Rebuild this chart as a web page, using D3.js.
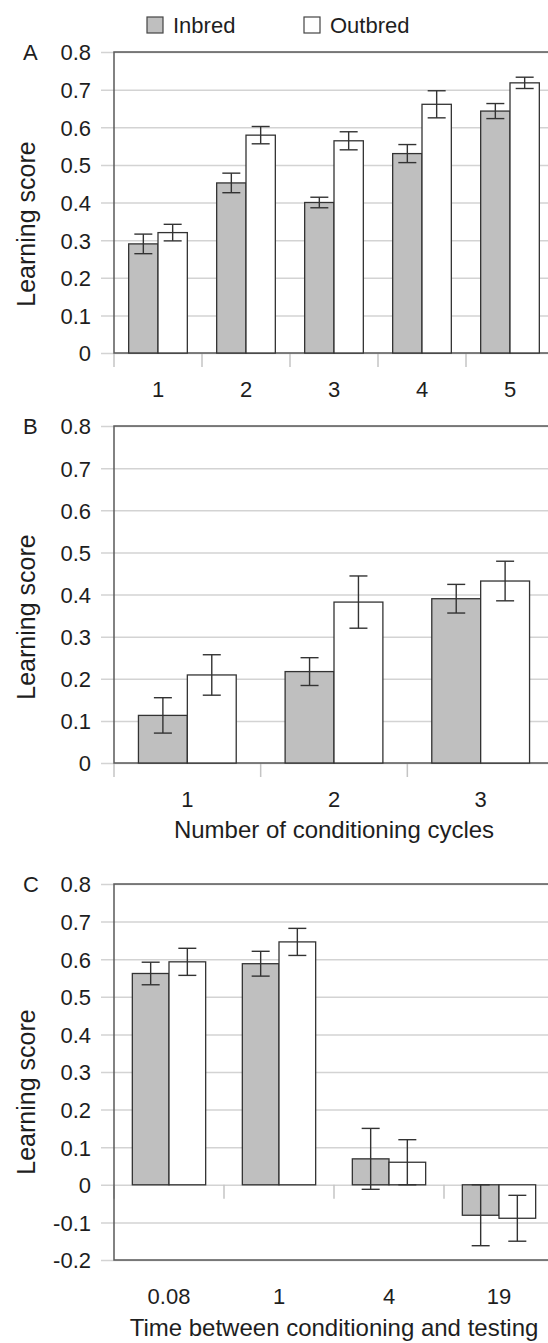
<!DOCTYPE html>
<html>
<head>
<meta charset="utf-8">
<script src="https://cdn.jsdelivr.net/npm/d3@7/dist/d3.min.js"></script>
<style>
body { margin: 0; background: #fff; }
text { font-family: "Liberation Sans", Arial, sans-serif; fill: #1e1e1e; }
</style>
</head>
<body>
<div id="chart"></div>
<script>
// series names
var series = ["Inbred", "Outbred"];

// panel A - number of conditioning cycles 1..5
var catsA = ["1", "2", "3", "4", "5"];
var inbredA = [0.29, 0.452, 0.40, 0.53, 0.643];
var inbredErrA = [0.026, 0.026, 0.014, 0.024, 0.02];
var outbredA = [0.32, 0.579, 0.564, 0.661, 0.718];
var outbredErrA = [0.022, 0.023, 0.024, 0.036, 0.015];

// panel B - number of conditioning cycles 1..3
var catsB = ["1", "2", "3"];
var inbredB = [0.113, 0.217, 0.39];
var inbredErrB = [0.042, 0.033, 0.034];
var outbredB = [0.209, 0.382, 0.432];
var outbredErrB = [0.048, 0.062, 0.047];

// panel C - time between conditioning and testing
var catsC = ["0.08", "1", "4", "19"];
var inbredC = [0.562, 0.588, 0.069, -0.081];
var inbredErrC = [0.03, 0.033, 0.081, 0.081];
var outbredC = [0.593, 0.646, 0.06, -0.089];
var outbredErrC = [0.036, 0.036, 0.06, 0.061];

// y tick labels
var ticksAB = [0, 0.1, 0.2, 0.3, 0.4, 0.5, 0.6, 0.7, 0.8];
var ticksC = [-0.2, -0.1, 0, 0.1, 0.2, 0.3, 0.4, 0.5, 0.6, 0.7, 0.8];

var W = 548, H = 1343;
var left = 114, right = 554; // plot runs past the right edge, like the original

var svg = d3.select("#chart").append("svg")
    .attr("width", W)
    .attr("height", H);

var fills = {"Inbred": "#bfbfbf", "Outbred": "#ffffff"};

// legend
series.forEach(function(s, i){
    var lx = [147, 304][i];
    svg.append("rect")
        .attr("x", lx).attr("y", 17)
        .attr("width", 16).attr("height", 16)
        .attr("fill", fills[s])
        .attr("stroke", "#444").attr("stroke-width", 1.2);
    svg.append("text")
        .attr("x", lx + 26).attr("y", 33)
        .attr("font-size", 22)
        .text(s);
});

function drawPanel(p){
    var g = svg.append("g");

    var x = d3.scaleBand().domain(p.cats).range([left, right]);
    var bw = x.bandwidth();
    var xs = d3.scaleBand().domain(series).range([bw / 6, bw * 5 / 6]); // bars take middle 2/3
    var y = d3.scaleLinear().domain(p.domain).range([p.bottom, p.top]);

    // gridlines, sticking out a bit on the left like tick marks
    g.append("g")
        .attr("transform", "translate(" + (left - 13) + ",0)")
        .call(d3.axisRight(y).tickValues(p.ticks).tickSize(right - left + 13).tickFormat(""))
        .call(function(s){ s.select(".domain").remove(); })
        .selectAll("line")
        .attr("stroke", "#d3d3d3")
        .attr("stroke-width", 1.5);

    // y tick labels
    g.append("g")
        .attr("transform", "translate(" + left + ",0)")
        .call(d3.axisLeft(y).tickValues(p.ticks).tickSize(0).tickPadding(23)
            .tickFormat(function(d){ return String(d); }))
        .attr("font-size", 22)
        .call(function(s){ s.select(".domain").remove(); })
        .selectAll("text").attr("dy", "0.36em");

    // x tick marks at band edges
    g.selectAll(".xtick")
        .data(p.cats)
        .enter().append("line")
        .attr("x1", function(d){ return x(d); })
        .attr("x2", function(d){ return x(d); })
        .attr("y1", y(0))
        .attr("y2", y(0) + 14)
        .attr("stroke", "#c4c4c4")
        .attr("stroke-width", 1.5);

    // frame: left, top, bottom
    g.append("path")
        .attr("d", "M" + right + "," + p.top + "H" + left + "V" + p.bottom + "H" + right)
        .attr("fill", "none")
        .attr("stroke", "#5a5a5a")
        .attr("stroke-width", 1.5);

    var rows = [];
    p.cats.forEach(function(c, i){
        rows.push({cat: c, key: "Inbred", v: p.inbred[i], e: p.inbredErr[i]});
        rows.push({cat: c, key: "Outbred", v: p.outbred[i], e: p.outbredErr[i]});
    });

    g.selectAll(".bar")
        .data(rows)
        .enter().append("rect")
        .attr("x", function(d){ return x(d.cat) + xs(d.key); })
        .attr("y", function(d){ return y(Math.max(0, d.v)); })
        .attr("width", xs.bandwidth())
        .attr("height", function(d){ return Math.abs(y(d.v) - y(0)); })
        .attr("fill", function(d){ return fills[d.key]; })
        .attr("stroke", "#333")
        .attr("stroke-width", 1.3);

    // error bars
    var eb = g.selectAll(".err")
        .data(rows)
        .enter().append("g")
        .attr("stroke", "#333")
        .attr("stroke-width", 1.4);
    eb.append("line")
        .attr("x1", function(d){ return x(d.cat) + xs(d.key) + xs.bandwidth() / 2; })
        .attr("x2", function(d){ return x(d.cat) + xs(d.key) + xs.bandwidth() / 2; })
        .attr("y1", function(d){ return y(d.v - d.e); })
        .attr("y2", function(d){ return y(d.v + d.e); });
    [-1, 1].forEach(function(sgn){
        eb.append("line")
            .attr("x1", function(d){ return x(d.cat) + xs(d.key) + xs.bandwidth() / 2 - 9; })
            .attr("x2", function(d){ return x(d.cat) + xs(d.key) + xs.bandwidth() / 2 + 9; })
            .attr("y1", function(d){ return y(d.v + sgn * d.e); })
            .attr("y2", function(d){ return y(d.v + sgn * d.e); });
    });

    // x tick labels
    g.selectAll(".xlab")
        .data(p.cats)
        .enter().append("text")
        .attr("x", function(d){ return x(d) + bw / 2; })
        .attr("y", p.bottom + 44)
        .attr("text-anchor", "middle")
        .attr("font-size", 22)
        .text(function(d){ return d; });

    // panel letter
    g.append("text")
        .attr("x", 23)
        .attr("y", y(p.domain[1]))
        .attr("dy", "0.36em")
        .attr("font-size", 22)
        .text(p.letter);

    // y title
    g.append("text")
        .attr("transform", "translate(35," + p.yTitle + ") rotate(-90)")
        .attr("text-anchor", "middle")
        .attr("font-size", 25)
        .text("Learning score");

    if (p.xTitle) {
        g.append("text")
            .attr("x", (left + right) / 2)
            .attr("y", p.xTitleY)
            .attr("text-anchor", "middle")
            .attr("font-size", 24)
            .text(p.xTitle);
    }
}

drawPanel({letter: "A", cats: catsA, inbred: inbredA, inbredErr: inbredErrA,
    outbred: outbredA, outbredErr: outbredErrA, domain: [0, 0.8], ticks: ticksAB,
    top: 52, bottom: 353, yTitle: 224});

drawPanel({letter: "B", cats: catsB, inbred: inbredB, inbredErr: inbredErrB,
    outbred: outbredB, outbredErr: outbredErrB, domain: [0, 0.8], ticks: ticksAB,
    top: 426, bottom: 763, yTitle: 617,
    xTitle: "Number of conditioning cycles", xTitleY: 838});

drawPanel({letter: "C", cats: catsC, inbred: inbredC, inbredErr: inbredErrC,
    outbred: outbredC, outbredErr: outbredErrC, domain: [-0.2, 0.8], ticks: ticksC,
    top: 884, bottom: 1260, yTitle: 1092,
    xTitle: "Time between conditioning and testing", xTitleY: 1336});
</script>
</body>
</html>
